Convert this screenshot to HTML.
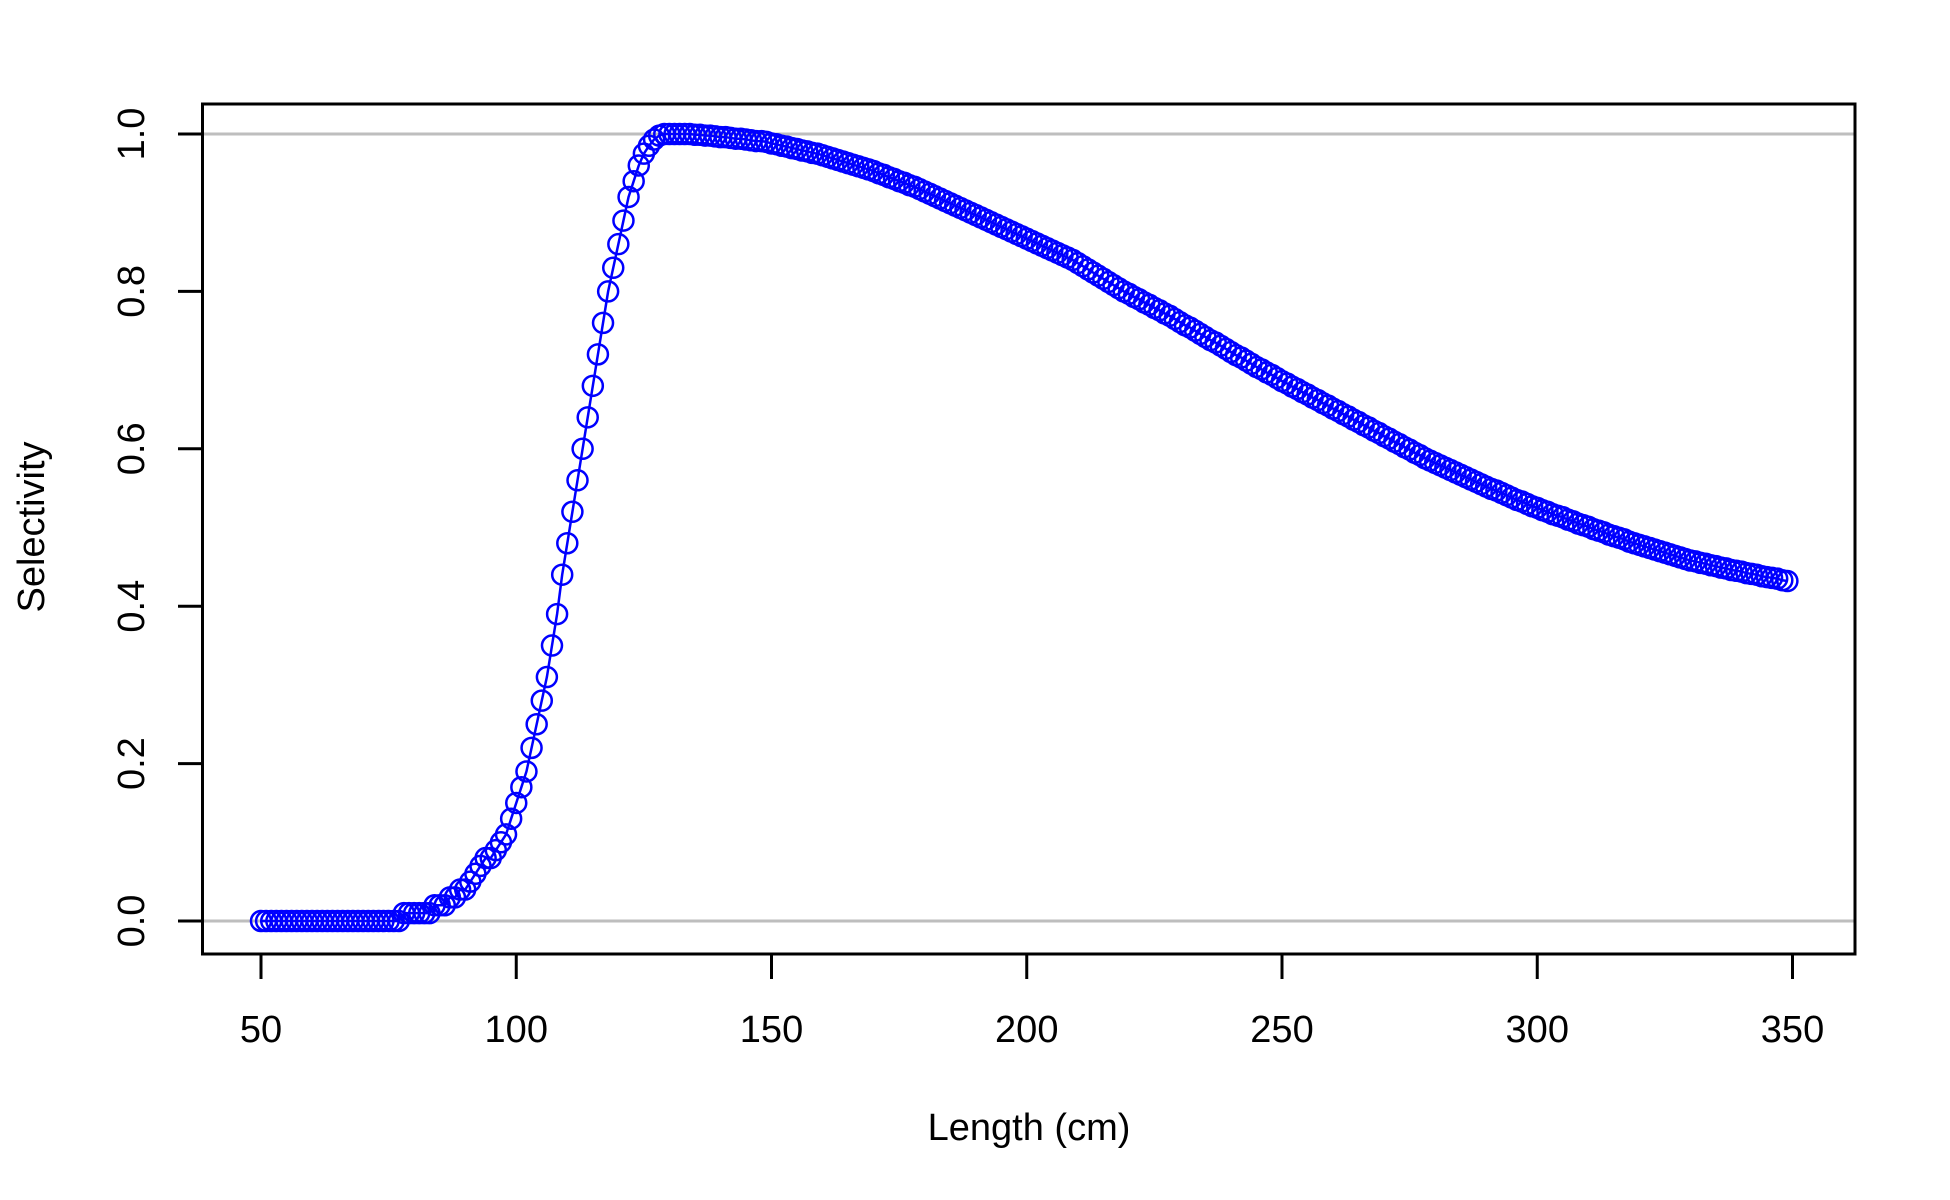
<!DOCTYPE html>
<html><head><meta charset="utf-8"><style>
html,body{margin:0;padding:0;background:#fff;}
svg{display:block;font-family:"Liberation Sans",Arial,sans-serif;}
</style></head><body>
<svg id="chart" width="1950" height="1200" viewBox="0 0 1950 1200" xmlns="http://www.w3.org/2000/svg">
<rect width="1950" height="1200" fill="#fff"/>
<g id="grid"></g>
<g id="series"></g>
<rect x="202.5" y="104" width="1652.5" height="850" fill="none" stroke="#000" stroke-width="3"/>
<g id="axes"></g>
<text x="1029" y="1140" font-size="38" text-anchor="middle">Length (cm)</text>
<text transform="translate(44,527) rotate(-90)" font-size="38" text-anchor="middle">Selectivity</text>
</svg>
<script>
const xTicks = [50,100,150,200,250,300,350];
const yTicks = [0,0.2,0.4,0.6,0.8,1.0];
const yTickLabels = ["0.0","0.2","0.4","0.6","0.8","1.0"];
const refLines = [0,1];
const lengthStart = 50;
const selectivity = [
0,0,0,0,0,0,0,0,0,0,
0,0,0,0,0,0,0,0,0,0,
0,0,0,0,0,0,0,0,0.01,0.01,
0.01,0.01,0.01,0.01,0.02,0.02,0.02,0.03,0.03,0.04,
0.04,0.05,0.06,0.07,0.08,0.08,0.09,0.10,0.11,0.13,
0.15,0.17,0.19,0.22,0.25,0.28,0.31,0.35,0.39,0.44,
0.48,0.52,0.56,0.60,0.64,0.68,0.72,0.76,0.80,0.83,
0.86,0.89,0.92,0.94,0.96,0.975,0.985,0.993,0.998,1.0,
1.000,1.000,1.000,1.000,1.000,0.999,0.999,0.998,0.998,0.997,
0.996,0.996,0.995,0.994,0.994,0.993,0.992,0.991,0.991,0.990,
0.988,0.987,0.985,0.984,0.982,0.981,0.979,0.978,0.976,0.975,
0.973,0.971,0.969,0.967,0.965,0.963,0.961,0.959,0.957,0.955,
0.953,0.950,0.948,0.945,0.943,0.940,0.938,0.935,0.933,0.930,
0.927,0.924,0.921,0.918,0.915,0.912,0.909,0.906,0.903,0.900,
0.897,0.894,0.891,0.888,0.885,0.882,0.879,0.876,0.873,0.870,
0.867,0.864,0.861,0.858,0.855,0.852,0.849,0.846,0.843,0.840,
0.836,0.832,0.828,0.824,0.820,0.816,0.812,0.808,0.804,0.800,
0.797,0.793,0.790,0.786,0.783,0.779,0.776,0.772,0.769,0.765,
0.761,0.757,0.754,0.750,0.746,0.742,0.738,0.735,0.731,0.727,
0.723,0.719,0.716,0.712,0.708,0.704,0.701,0.697,0.694,0.690,
0.686,0.683,0.679,0.676,0.672,0.669,0.665,0.662,0.658,0.655,
0.651,0.648,0.644,0.641,0.637,0.634,0.630,0.627,0.623,0.620,
0.616,0.613,0.609,0.606,0.602,0.599,0.595,0.592,0.588,0.585,
0.582,0.579,0.576,0.573,0.570,0.567,0.564,0.561,0.558,0.555,
0.552,0.549,0.547,0.544,0.541,0.538,0.535,0.533,0.530,0.527,
0.525,0.522,0.520,0.517,0.515,0.513,0.510,0.508,0.505,0.503,
0.501,0.498,0.496,0.494,0.491,0.489,0.487,0.485,0.482,0.480,
0.478,0.476,0.474,0.472,0.470,0.468,0.466,0.464,0.462,0.460,
0.458,0.457,0.455,0.454,0.452,0.451,0.449,0.448,0.446,0.445,
0.444,0.442,0.441,0.440,0.438,0.437,0.436,0.435,0.433,0.432
];

const NS = "http://www.w3.org/2000/svg";
const X0 = 261, X1 = 1792.5, Y0 = 921, Y1 = 134;
function xs(v){ return X0 + (v - 50) / 300 * (X1 - X0); }
function ys(v){ return Y0 - v * (Y0 - Y1); }
function mk(tag, attrs){ const e = document.createElementNS(NS, tag); for (const k in attrs) e.setAttribute(k, attrs[k]); return e; }

const grid = document.getElementById('grid');
refLines.forEach(v => {
  const l = mk('line', {x1:202.5, x2:1855, y1:ys(v), y2:ys(v), stroke:'#bebebe', 'stroke-width':3});
  
  
  grid.appendChild(l);
});

const axes = document.getElementById('axes');
xTicks.forEach(t => {
  const l = mk('line', {x1:xs(t), x2:xs(t), y1:954, y2:979, stroke:'#000', 'stroke-width':3});
  
  
  axes.appendChild(l);
  const tx = mk('text', {x:xs(t), y:1042, 'font-size':38, 'text-anchor':'middle'});
  tx.textContent = t;
  
  
  axes.appendChild(tx);
});
yTicks.forEach((t, i) => {
  const l = mk('line', {x1:178, x2:202.5, y1:ys(t), y2:ys(t), stroke:'#000', 'stroke-width':3});
  
  
  axes.appendChild(l);
  const tx = mk('text', {transform:'translate(144,' + ys(t) + ') rotate(-90)', 'font-size':38, 'text-anchor':'middle'});
  tx.textContent = yTickLabels[i];
  
  
  axes.appendChild(tx);
});

const series = document.getElementById('series');
const pts = selectivity.map((v, i) => xs(lengthStart + i).toFixed(2) + ',' + ys(v).toFixed(2)).join(' ');
const line = mk('polyline', {points:pts, fill:'none', stroke:'#0000ff', 'stroke-width':2.5});


series.appendChild(line);
selectivity.forEach((v, i) => {
  const c = mk('circle', {cx:xs(lengthStart + i), cy:ys(v), r:10, fill:'none', stroke:'#0000ff', 'stroke-width':2.5});
  
  
  series.appendChild(c);
});
</script>
</body></html>
